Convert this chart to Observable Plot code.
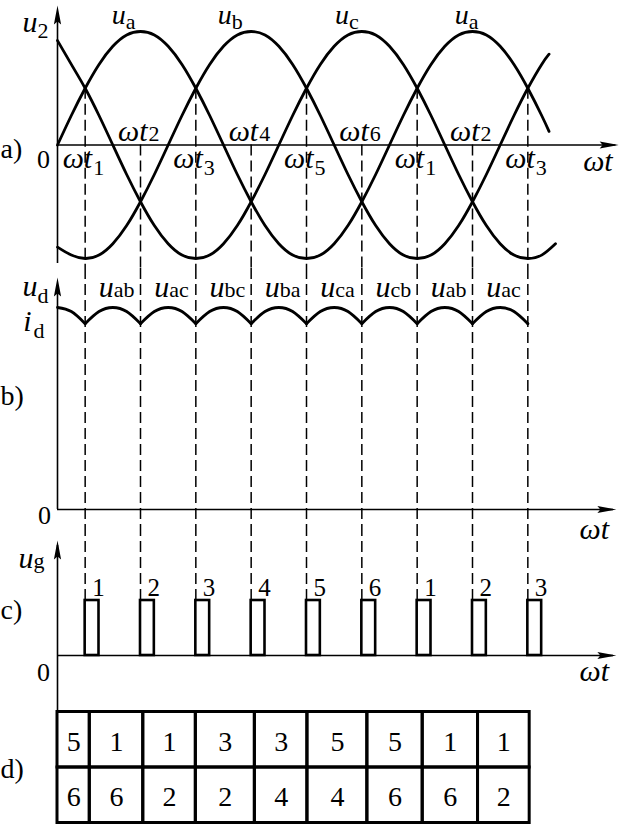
<!DOCTYPE html>
<html><head><meta charset="utf-8">
<script src="https://cdn.jsdelivr.net/npm/d3@7"></script>
<script src="https://cdn.jsdelivr.net/npm/@observablehq/plot@0.6"></script>
<style>
html,body{margin:0;padding:0;background:#fff;}
#chart{width:622px;height:824px;position:relative;}
#chart svg{display:block;overflow:visible;}
</style></head><body><div id="chart"></div>
<script>
// ---- data (angles in degrees of ωt) ----
const angleAB = [0,15,30,45,60,75,90,105,120,135,150,165,180,195,210,225,240,255,270,285,300,315,330,345,360,375,390,405,420,435,450,465,480,495,510,525,533];
const angleC  = [0,15,30,45,60,75,90,105,120,135,150,165,180,195,210,225,240,255,270,285,300,315,330,345,360,375,390,405,420,435,450,465,480,495,510,525,540];
const uA = [0,0.26,0.5,0.71,0.87,0.97,1,0.97,0.87,0.71,0.5,0.26,0,-0.26,-0.5,-0.71,-0.87,-0.97,-1,-0.97,-0.87,-0.71,-0.5,-0.26,0,0.26,0.5,0.71,0.87,0.97,1,0.97,0.87,0.71,0.5,0.26,0.12];
const uB = [-0.9,-0.97,-1,-0.97,-0.87,-0.71,-0.5,-0.26,0,0.26,0.5,0.71,0.87,0.97,1,0.97,0.87,0.71,0.5,0.26,0,-0.26,-0.5,-0.71,-0.87,-0.97,-1,-0.97,-0.87,-0.71,-0.5,-0.26,0,0.26,0.5,0.71,0.8];
const uC = [0.92,0.71,0.5,0.26,0,-0.26,-0.5,-0.71,-0.87,-0.97,-1,-0.97,-0.87,-0.71,-0.5,-0.26,0,0.26,0.5,0.71,0.87,0.97,1,0.97,0.87,0.71,0.5,0.26,0,-0.26,-0.5,-0.71,-0.87,-0.97,-1,-0.97,-0.87];
const phaseLabelAngles = [74, 189, 316, 446];
const phaseLabelSubs = ["a","b","c","a"];

const commAngles = [30,90,150,210,270,330,390,450,510];
const commCross  = [0.5,-0.5,0.5,-0.5,0.5,-0.5,0.5,-0.5,0.5];
const commSubs   = ["1","2","3","4","5","6","1","2","3"];

const udAngles = [0,15,30,45,60,75,90,105,120,135,150,165,180,195,210,225,240,255,270,285,300,315,330,345,360,375,390,405,420,435,450,465,480,495,510];
const udValues = [1,0.98,0.92,0.98,1,0.98,0.92,0.98,1,0.98,0.92,0.98,1,0.98,0.92,0.98,1,0.98,0.92,0.98,1,0.98,0.92,0.98,1,0.98,0.92,0.98,1,0.98,0.92,0.98,1,0.98,0.92];
const lineLabelAngles = [60,120,180,240,300,360,420,480];
const lineLabelSubs = ["ab","ac","bc","ba","ca","cb","ab","ac"];

const pulseWidth = 15;
const pulseLabels = ["1","2","3","4","5","6","1","2","3"];

const tableEdges = [0,35,93,150,214,271,336,396,456,512];
const tableRow1 = [5,1,1,3,3,5,5,1,1];
const tableRow2 = [6,6,2,2,4,4,6,6,2];

// ---- helpers ----
const FONT = "Liberation Serif, serif";
const W = 622;
const xScale = {domain: [0, 540], range: [57, 555], axis: null};
function base(height, y, marks) {
  return Plot.plot({
    width: W, height, marginTop: 0, marginRight: 0, marginBottom: 0, marginLeft: 0,
    x: xScale, y: {...y, axis: null},
    style: {overflow: "visible", background: "transparent", fontFamily: FONT, color: "black"},
    marks
  });
}
const arrowHead = {draw(ctx) { ctx.moveTo(0,0); ctx.lineTo(3.6,19); ctx.lineTo(0,16); ctx.lineTo(-3.6,19); ctx.closePath(); }};
const AX = 1.6;
function lab(str, x, y, o = {}) {
  return Plot.text([str], {x, y, fontFamily: FONT, fontSize: 26, lineAnchor: "bottom", fill: "black", ...o});
}
const IT = {fontStyle: "italic", fontSize: 30, textAnchor: "end"};
const SUB = {fontSize: 22, textAnchor: "start"};
function xAxis(tipX = 608.5) {
  return [
    Plot.ruleY([0], {x1: 0, x2: tipX - 3, strokeWidth: AX}),
    Plot.dot([0], {x: tipX, y: 0, symbol: arrowHead, rotate: 90, fill: "black", stroke: "none"})
  ];
}
const comm = commAngles.map((a, i) => ({a, cross: commCross[i], sub: commSubs[i], pulse: pulseLabels[i], above: i % 2 === 1}));
const commAbove = comm.filter(d => d.above);
const commBelow = comm.filter(d => !d.above);
const dash = {strokeWidth: 1.5, strokeDasharray: "11,5", clip: "frame"};

// ---- panel a ----
const toPts = (ang, val) => ang.map((a, i) => ({a, v: val[i]}));
const yA = {domain: [-1, 1], range: [258, 31]};
const wt = {x: "a", y: 0, text: () => "ωt", dx: 7, fontFamily: FONT, lineAnchor: "bottom", ...IT};
const wtSub = {x: "a", y: 0, text: "sub", dx: 8, fontFamily: FONT, lineAnchor: "bottom", ...SUB};
const panelA = base(268, yA, [
  Plot.ruleX(comm, {x: "a", y1: d => Math.max(0, d.cross), y2: -2, ...dash}),
  Plot.ruleX([0], {y1: -1.044, y2: 1.15, strokeWidth: AX}),
  Plot.dot([0], {x: 0, y: 1.23, symbol: arrowHead, fill: "black", stroke: "none"}),
  ...xAxis(),
  Plot.line(toPts(angleAB, uA), {x: "a", y: "v", curve: "natural", strokeWidth: 2.8}),
  Plot.line(toPts(angleAB, uB), {x: "a", y: "v", curve: "natural", strokeWidth: 2.8}),
  Plot.line(toPts(angleC, uC), {x: "a", y: "v", curve: "natural", strokeWidth: 2.8}),
  // phase labels
  Plot.text(phaseLabelAngles.map(a => "u"), {x: phaseLabelAngles, y: phaseLabelAngles.map(() => 1.07), fontFamily: FONT, lineAnchor: "bottom", ...IT, fontSize: 28}),
  Plot.text(phaseLabelSubs, {x: phaseLabelAngles, y: phaseLabelAngles.map(() => 1.02), fontFamily: FONT, lineAnchor: "bottom", ...SUB}),
  // ωt labels
  Plot.text(commAbove, {...wt, dy: -4}),
  Plot.text(commAbove, {...wtSub, dy: -4}),
  Plot.text(commBelow, {...wt, dy: 23}),
  Plot.text(commBelow, {...wtSub, dy: 30}),
  lab("ωt", 586, 0, {fontStyle: "italic", fontSize: 30, textAnchor: "middle", dy: 26}),
  lab("0", 0, 0, {textAnchor: "middle", dx: -14, dy: 23}),
  lab("u", 0, 1.0, {...IT, dx: -20}),
  lab("2", 0, 0.94, {...SUB, dx: -20}),
  Plot.text(["a)"], {frameAnchor: "left", y: 0, dy: 13, textAnchor: "start", fontFamily: FONT, fontSize: 28, lineAnchor: "bottom"})
]);

// ---- panel b ----
const segs = [];
let seg = 0;
udAngles.forEach((a, i) => {
  segs.push({a, v: udValues[i], s: seg});
  if (commAngles.includes(a)) { seg++; segs.push({a, v: udValues[i], s: seg}); }
});
const yB = {domain: [0, 1], range: [241, 39]};
const panelB = base(262, yB, [
  Plot.ruleX(comm, {x: "a", ...dash}),
  Plot.ruleX([0], {y1: 0, y2: 1.1, strokeWidth: AX}),
  Plot.dot([0], {x: 0, y: 1.149, symbol: arrowHead, fill: "black", stroke: "none"}),
  ...xAxis(606),
  Plot.line(segs.filter(d => d.a <= 510), {x: "a", y: "v", z: "s", curve: "natural", strokeWidth: 2.8}),
  Plot.text(lineLabelAngles.map(() => "u"), {x: lineLabelAngles, y: lineLabelAngles.map(() => 1.054), fontFamily: FONT, lineAnchor: "bottom", ...IT, dx: 1}),
  Plot.text(lineLabelSubs, {x: lineLabelAngles, y: lineLabelAngles.map(() => 1.05), fontFamily: FONT, lineAnchor: "bottom", ...SUB, dx: 1}),
  lab("u", 0, 1.059, {...IT, dx: -20}),
  lab("d", 0, 1.02, {...SUB, dx: -20}),
  lab("i", 0, 0.886, {...IT, dx: -26}),
  lab("d", 0, 0.847, {...SUB, dx: -24}),
  lab("0", 0, 0, {textAnchor: "middle", dx: -13, dy: 14}),
  lab("ωt", 582, 0, {fontStyle: "italic", fontSize: 30, textAnchor: "middle", dy: 29}),
  Plot.text(["b)"], {frameAnchor: "left", y: 0.515, textAnchor: "start", fontFamily: FONT, fontSize: 28, lineAnchor: "bottom"})
]);

// ---- panel c ----
const yC = {domain: [0, 1], range: [125, 70]};
const panelC = base(170, yC, [
  Plot.ruleX(comm, {x: "a", y1: 1, y2: 5, ...dash}),
  Plot.ruleX([0], {y1: -5, y2: 2.0, strokeWidth: AX, clip: "frame"}),
  Plot.dot([0], {x: 0, y: 2.09, symbol: arrowHead, fill: "black", stroke: "none"}),
  ...xAxis(606),
  Plot.rect(comm, {x1: "a", x2: d => d.a + pulseWidth, y1: 0, y2: 1, fill: "none", stroke: "black", strokeWidth: 2.6}),
  Plot.text(comm, {x: "a", y: 1.09, text: "pulse", dx: 7, textAnchor: "start", fontFamily: FONT, fontSize: 25, lineAnchor: "bottom"}),
  lab("u", 0, 1.6, {...IT, dx: -24}),
  lab("g", 0, 1.6, {...SUB, dx: -24}),
  lab("0", 0, 0, {textAnchor: "middle", dx: -14, dy: 25}),
  lab("ωt", 582, 0, {fontStyle: "italic", fontSize: 30, textAnchor: "middle", dy: 25}),
  Plot.text(["c)"], {frameAnchor: "left", y: 0.67, textAnchor: "start", fontFamily: FONT, fontSize: 28, lineAnchor: "bottom"})
]);

// ---- panel d ----
const cells = [];
tableRow1.forEach((t, i) => cells.push({x1: tableEdges[i], x2: tableEdges[i+1], row: 0, t: String(t)}));
tableRow2.forEach((t, i) => cells.push({x1: tableEdges[i], x2: tableEdges[i+1], row: 1, t: String(t)}));
const yD = {domain: [0, 2], range: [11.5, 122.5]};
const panelD = base(124, yD, [
  Plot.ruleX([0], {y1: -1, y2: 0, strokeWidth: AX, clip: "frame"}),
  Plot.rect(cells, {x1: "x1", x2: "x2", y1: "row", y2: d => d.row + 1, fill: "none", stroke: "black", strokeWidth: 3}),
  Plot.text(cells, {x: d => (d.x1 + d.x2) / 2, y: d => d.row + 0.5, text: "t", fontFamily: FONT, fontSize: 28, lineAnchor: "middle", dy: 2}),
  Plot.text(["d)"], {frameAnchor: "left", y: 1, dy: 2, textAnchor: "start", fontFamily: FONT, fontSize: 28, lineAnchor: "middle"})
]);

const root = document.getElementById("chart");
[panelA, panelB, panelC, panelD].forEach(p => root.appendChild(p));
</script>
</body></html>
